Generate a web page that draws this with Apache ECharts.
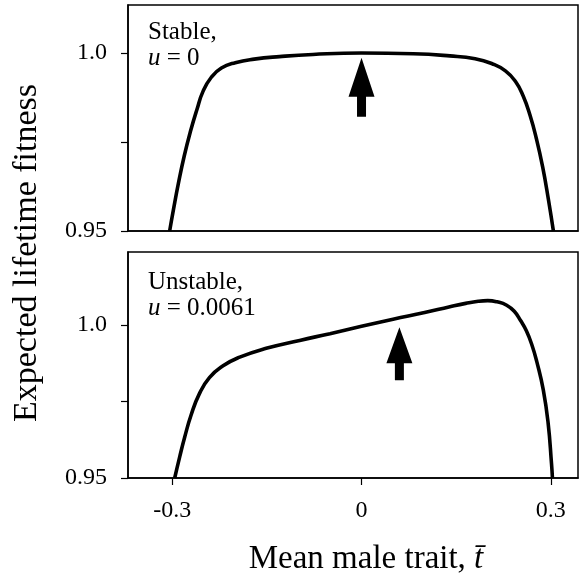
<!DOCTYPE html>
<html>
<head>
<meta charset="utf-8">
<script src="https://cdn.jsdelivr.net/npm/echarts@6/dist/echarts.min.js"></script>
<style>
  html, body { margin: 0; padding: 0; background: #fff; }
  #chart { width: 582px; height: 579px; }
</style>
</head>
<body>
<div id="chart"></div>
<script>
// mean male trait (x) and expected lifetime fitness (y)
var stableX = [-0.304, -0.298, -0.290, -0.281, -0.271, -0.261, -0.251, -0.238, -0.222, -0.200, -0.170, -0.130, -0.077, 0, 0.082, 0.140, 0.180, 0.207, 0.228, 0.244, 0.256, 0.267, 0.277, 0.287, 0.296, 0.304]
var stableY = [0.950, 0.956, 0.9635, 0.971, 0.978, 0.984, 0.9893, 0.9932, 0.9958, 0.9973, 0.9983, 0.999, 0.9996, 1.0, 0.9998, 0.9992, 0.9984, 0.997, 0.995, 0.992, 0.988, 0.9825, 0.976, 0.968, 0.959, 0.950]

var unstableX = [-0.296, -0.288, -0.280, -0.270, -0.257, -0.241, -0.220, -0.193, -0.151, -0.098, -0.050, 0, 0.050, 0.100, 0.140, 0.165, 0.185, 0.200, 0.215, 0.230, 0.242, 0.252, 0.261, 0.270, 0.278, 0.288, 0.2957, 0.301, 0.3025]
var unstableY = [0.950, 0.957, 0.9635, 0.9706, 0.9775, 0.9828, 0.9866, 0.9895, 0.9924, 0.995, 0.9972, 0.9996, 1.0019, 1.0041, 1.006, 1.0071, 1.0078, 1.008, 1.0076, 1.0065, 1.0045, 1.0015, 0.9982, 0.9935, 0.9878, 0.9788, 0.9679, 0.9548, 0.950]

// arrows marking the equilibrium mean trait
var arrowX = [0, 0.06]
var arrowTipY = [0.9987, 0.9993]

// axes
var xMin = -0.37
var xMax = 0.343
var xTickValues = [-0.3, 0, 0.3]
var xTickLabels = ['-0.3', '0', '0.3']
var yMin = 0.95
var yMaxTop = 1.0135
var yMaxBottom = 1.0239
var yTickValues = [0.95, 0.975, 1.0]
var yLabelValues = [0.95, 1.0]
var yTickLabels = ['0.95', '1.0']

var serif = "'Liberation Serif', 'Times New Roman', serif"

function zip (xs, ys) {
  return xs.map(function (x, i) { return [x, ys[i]] })
}
// pick the label of the nearest listed value
function pickLabel (values, labels, v) {
  var best = 0
  values.forEach(function (t, i) {
    if (Math.abs(t - v) < Math.abs(values[best] - v)) best = i
  })
  return labels[best]
}

function panelGrid (top) {
  return { left: 128, right: 4, top: top, height: 226, show: true, borderColor: '#000', borderWidth: 1.5 }
}

function yAxisFor (gridIndex, max) {
  return {
    gridIndex: gridIndex,
    type: 'value',
    min: yMin,
    max: max,
    splitLine: { show: false },
    axisLine: { show: true, onZero: false, lineStyle: { color: '#000', width: 1.5 } },
    axisTick: { show: true, length: 7, customValues: yTickValues, lineStyle: { color: '#000', width: 1.2 } },
    axisLabel: {
      customValues: yLabelValues,
      margin: 21,
      color: '#000',
      fontFamily: serif,
      fontSize: 24,
      formatter: function (v) { return pickLabel(yLabelValues, yTickLabels, v) }
    }
  }
}

function lineSeries (name, idx, xs, ys) {
  return {
    name: name,
    type: 'line',
    xAxisIndex: idx,
    yAxisIndex: idx,
    data: zip(xs, ys),
    showSymbol: false,
    smooth: 0.5,
    lineStyle: { color: '#000', width: 3.6 }
  }
}

var chart = echarts.init(document.getElementById('chart'))

var option = {
  animation: false,
  backgroundColor: '#fff',
  grid: [panelGrid(5), panelGrid(252)],
  xAxis: [
    {
      gridIndex: 0,
      type: 'value',
      min: xMin,
      max: xMax,
      splitLine: { show: false },
      axisLine: { show: true, onZero: false, lineStyle: { color: '#000', width: 1.5 } },
      axisTick: { show: false },
      axisLabel: { show: false }
    },
    {
      gridIndex: 1,
      type: 'value',
      min: xMin,
      max: xMax,
      splitLine: { show: false },
      axisLine: { show: true, onZero: false, lineStyle: { color: '#000', width: 1.5 } },
      axisTick: { show: true, length: 7, customValues: xTickValues, lineStyle: { color: '#000', width: 1.2 } },
      axisLabel: {
        customValues: xTickValues,
        margin: 21,
        color: '#000',
        fontFamily: serif,
        fontSize: 24,
        formatter: function (v) { return pickLabel(xTickValues, xTickLabels, v) }
      },
      name: 'Mean male trait, {i|t\u0304}',
      nameLocation: 'middle',
      nameGap: 65,
      nameTextStyle: {
        color: '#000',
        fontFamily: serif,
        fontSize: 33,
        padding: [0, 0, 0, 26],
        rich: { i: { fontFamily: serif, fontSize: 33, fontStyle: 'italic', color: '#000' } }
      }
    }
  ],
  yAxis: [yAxisFor(0, yMaxTop), yAxisFor(1, yMaxBottom)],
  graphic: [
    {
      type: 'text',
      x: 27,
      y: 253,
      rotation: Math.PI / 2,
      style: {
        text: 'Expected lifetime fitness',
        fill: '#000',
        font: '34px ' + serif,
        textAlign: 'center',
        textVerticalAlign: 'middle'
      }
    },
    {
      type: 'text', x: 148, y: 32,
      style: { text: 'Stable,', fill: '#000', font: '25px ' + serif, textVerticalAlign: 'middle' }
    },
    {
      type: 'text', x: 148, y: 58,
      style: {
        text: '{i|u} = 0', fill: '#000', font: '25px ' + serif, textVerticalAlign: 'middle',
        rich: { i: { fontFamily: serif, fontSize: 25, fontStyle: 'italic', fill: '#000' } }
      }
    },
    {
      type: 'text', x: 148, y: 282,
      style: { text: 'Unstable,', fill: '#000', font: '25px ' + serif, textVerticalAlign: 'middle' }
    },
    {
      type: 'text', x: 148, y: 308,
      style: {
        text: '{i|u} = 0.0061', fill: '#000', font: '25px ' + serif, textVerticalAlign: 'middle',
        rich: { i: { fontFamily: serif, fontSize: 25, fontStyle: 'italic', fill: '#000' } }
      }
    }
  ],
  series: [
    lineSeries('stable', 0, stableX, stableY),
    lineSeries('unstable', 1, unstableX, unstableY),
    {
      name: 'arrow stable',
      type: 'scatter',
      xAxisIndex: 0,
      yAxisIndex: 0,
      data: [[arrowX[0], arrowTipY[0]]],
      symbol: 'path://M13,0 L26,39 L17.5,39 L17.5,59 L8.5,59 L8.5,39 L0,39 Z',
      symbolSize: [26, 59],
      symbolOffset: [0, '50%'],
      itemStyle: { color: '#000', opacity: 1 }
    },
    {
      name: 'arrow unstable',
      type: 'scatter',
      xAxisIndex: 1,
      yAxisIndex: 1,
      data: [[arrowX[1], arrowTipY[1]]],
      symbol: 'path://M13,0 L26,36 L17.5,36 L17.5,53 L8.5,53 L8.5,36 L0,36 Z',
      symbolSize: [26, 53],
      symbolOffset: [0, '50%'],
      itemStyle: { color: '#000', opacity: 1 }
    }
  ]
}

chart.setOption(option)
</script>
</body>
</html>
